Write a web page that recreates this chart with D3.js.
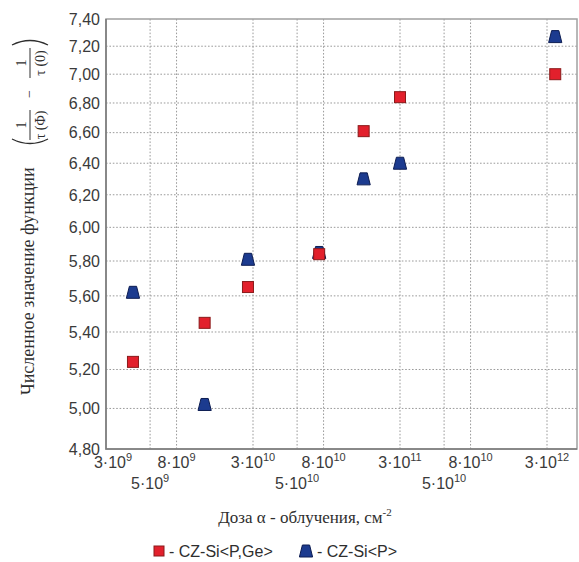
<!DOCTYPE html>
<html>
<head>
<meta charset="utf-8">
<script src="https://cdn.jsdelivr.net/npm/d3@7"></script>
<style>
  body { margin: 0; background: #fff; }
  text { font-family: "Liberation Sans", Arial, sans-serif; }
  .serif { font-family: "Liberation Serif", "Times New Roman", serif; }
</style>
</head>
<body>
<div id="chart"></div>
<script>
// dose of alpha irradiation, cm^-2
const doses = [4.1e9, 1.3e10, 2.75e10, 7.4e10, 1.6e11, 3e11, 3.3e12];
// CZ-Si<P,Ge>
const valuesPGe = [5.24, 5.45, 5.65, 5.84, 6.61, 6.84, 7.00];
// CZ-Si<P>
const valuesP = [5.62, 5.02, 5.81, 5.85, 6.30, 6.40, 7.27];

const xTickValues = [3e9, 5e9, 8e9, 3e10, 5e10, 8e10, 3e11, 5e11, 8e11, 3e12];
// mantissa, exponent (kept as printed in the original, typos too)
const xTickLabels = [["3", "9"], ["5", "9"], ["8", "9"], ["3", "10"], ["5", "10"], ["8", "10"],
  ["3", "11"], ["5", "10"], ["8", "10"], ["3", "12"]];
const xTickRow = [0, 1, 0, 0, 1, 0, 0, 1, 0, 0];

const yTickValues = [4.8, 5.0, 5.2, 5.4, 5.6, 5.8, 6.0, 6.2, 6.4, 6.6, 6.8, 7.0, 7.2, 7.4];
const yTickLabels = ["4,80", "5,00", "5,20", "5,40", "5,60", "5,80", "6,00", "6,20", "6,40",
  "6,60", "6,80", "7,00", "7,20", "7,40"];

(function () {
  const margin = { top: 19, right: 2, bottom: 113, left: 106 };

  const width = 579 - margin.left - margin.right;
  const height = 562 - margin.top - margin.bottom;

  const root = d3
    .select("#chart")
    .append("svg")
    .attr("width", width + margin.left + margin.right)
    .attr("height", height + margin.top + margin.bottom);

  const svg = root
    .append("g")
    .attr("transform", "translate(" + margin.left + "," + margin.top + ")");

  // the paper's x axis is log-ish: 3, 5, 8 sit at these fractions of a decade
  const fracs = [0, 0.30, 0.48];
  const decadeWidth = width / 3.204;
  const xDomain = xTickValues.concat([5e12]);
  const xRange = xDomain.map((d, i) => decadeWidth * (Math.floor(i / 3) + fracs[i % 3]));
  const xPositionScale = d3.scaleLog().domain(xDomain).range(xRange);

  const yPositionScale = d3.scaleLog().domain([4.8, 7.4]).range([height, 0]);

  // grid
  svg.selectAll(".hgrid")
    .data(yTickValues.slice(1, -1))
    .enter().append("line")
    .attr("x1", 0)
    .attr("x2", width)
    .attr("y1", d => yPositionScale(d))
    .attr("y2", d => yPositionScale(d))
    .attr("stroke", "#9a9a9a")
    .attr("stroke-dasharray", "1.6,1.8")

  svg.selectAll(".vgrid")
    .data(xTickValues.slice(1))
    .enter().append("line")
    .attr("x1", d => xPositionScale(d))
    .attr("x2", d => xPositionScale(d))
    .attr("y1", 0)
    .attr("y2", height)
    .attr("stroke", "#9a9a9a")
    .attr("stroke-dasharray", "1.6,1.8")

  // frame
  svg.append("rect")
    .attr("width", width)
    .attr("height", height)
    .attr("fill", "none")
    .attr("stroke", "#a0a0a0")
    .attr("stroke-width", 1.5)

  svg.append("path")
    .attr("d", "M0,0V" + height + "H" + width)
    .attr("fill", "none")
    .attr("stroke", "#7a7a7a")
    .attr("stroke-width", 1.5)

  // y tick labels
  svg.selectAll(".ylabel")
    .data(yTickValues)
    .enter().append("text")
    .attr("x", -6)
    .attr("y", d => yPositionScale(d))
    .attr("dy", "0.36em")
    .attr("text-anchor", "end")
    .attr("font-size", "16px")
    .attr("fill", "#3a3a3a")
    .text((d, i) => yTickLabels[i])

  // x tick labels, two rows; the first one is nudged right off the corner
  const xLabels = svg.selectAll(".xlabel")
    .data(xTickValues)
    .enter().append("text")
    .attr("x", (d, i) => xPositionScale(d) + (i === 0 ? 7 : 0))
    .attr("y", (d, i) => height + 19 + xTickRow[i] * 21)
    .attr("text-anchor", "middle")
    .attr("font-size", "16px")
    .attr("fill", "#3a3a3a")

  xLabels.append("tspan").text((d, i) => xTickLabels[i][0] + "\u00b7" + "10")
  xLabels.append("tspan")
    .attr("dy", -7)
    .attr("font-size", "11px")
    .text((d, i) => xTickLabels[i][1])

  // markers: blue first so the red square sits on top at 8e10
  const trapezoid = "M-3.6,-6L3.6,-6L6.6,6L-6.6,6Z";

  svg.selectAll(".p")
    .data(doses)
    .enter().append("path")
    .attr("d", trapezoid)
    .attr("transform", (d, i) => "translate(" + xPositionScale(d) + "," + yPositionScale(valuesP[i]) + ")")
    .attr("fill", "#1c3b8f")
    .attr("stroke", "#0d1d52")
    .attr("stroke-linejoin", "round")

  svg.selectAll(".pge")
    .data(doses)
    .enter().append("rect")
    .attr("x", d => xPositionScale(d) - 5.5)
    .attr("y", (d, i) => yPositionScale(valuesPGe[i]) - 5.5)
    .attr("width", 11)
    .attr("height", 11)
    .attr("fill", "#e2202c")
    .attr("stroke", "#8a1a1a")

  // x title
  const xTitle = root.append("text")
    .attr("class", "serif")
    .attr("x", 305)
    .attr("y", 523)
    .attr("text-anchor", "middle")
    .attr("font-size", "17px")
    .attr("fill", "#2e2e2e")
  xTitle.append("tspan").text("Доза \u03b1 - облучения, см")
  xTitle.append("tspan").attr("dy", -7).attr("font-size", "11px").text("-2")

  // y title, rotated, with the (1/τ(Φ) − 1/τ(0)) expression
  const yTitle = root.append("g")
    .attr("class", "serif")
    .attr("transform", "translate(28,395) rotate(-90)")
    .attr("fill", "#2e2e2e")

  yTitle.append("text")
    .attr("class", "serif")
    .attr("x", 0)
    .attr("y", 6)
    .attr("font-size", "18px")
    .text("Численное значение функции")

  const fractions = [{ cx: 270, den: "\u03c4 (\u03a6)" }, { cx: 332, den: "\u03c4 (0)" }]
  fractions.forEach(f => {
    yTitle.append("text").attr("class", "serif")
      .attr("x", f.cx).attr("y", -2).attr("text-anchor", "middle")
      .attr("font-size", "14px").text("1")
    yTitle.append("line")
      .attr("x1", f.cx - 15).attr("x2", f.cx + 15)
      .attr("y1", 2).attr("y2", 2)
      .attr("stroke", "#2e2e2e").attr("stroke-width", 1)
    yTitle.append("text").attr("class", "serif")
      .attr("x", f.cx).attr("y", 17).attr("text-anchor", "middle")
      .attr("font-size", "14px").text(f.den)
  })

  yTitle.append("text").attr("class", "serif")
    .attr("x", 301).attr("y", 6).attr("text-anchor", "middle")
    .attr("font-size", "14px").text("\u2212")

  // big parentheses
  yTitle.append("path")
    .attr("d", "M256,-16Q247,2 256,20")
    .attr("fill", "none").attr("stroke", "#2e2e2e").attr("stroke-width", 1.3)
  yTitle.append("path")
    .attr("d", "M350,-16Q359,2 350,20")
    .attr("fill", "none").attr("stroke", "#2e2e2e").attr("stroke-width", 1.3)

  // legend
  const legend = root.append("g").attr("transform", "translate(0,551)")
  legend.append("rect")
    .attr("x", 154).attr("y", -5).attr("width", 10).attr("height", 10)
    .attr("fill", "#e2202c").attr("stroke", "#8a1a1a")
  legend.append("text")
    .attr("x", 169).attr("y", 0).attr("dy", "0.36em")
    .attr("font-size", "16px").attr("fill", "#2e2e2e")
    .text("- CZ-Si<P,Ge>")
  legend.append("path")
    .attr("d", trapezoid)
    .attr("transform", "translate(306,0)")
    .attr("fill", "#1c3b8f").attr("stroke", "#0d1d52")
  legend.append("text")
    .attr("x", 317).attr("y", 0).attr("dy", "0.36em")
    .attr("font-size", "16px").attr("fill", "#2e2e2e")
    .text("- CZ-Si<P>")
})();
</script>
</body>
</html>
